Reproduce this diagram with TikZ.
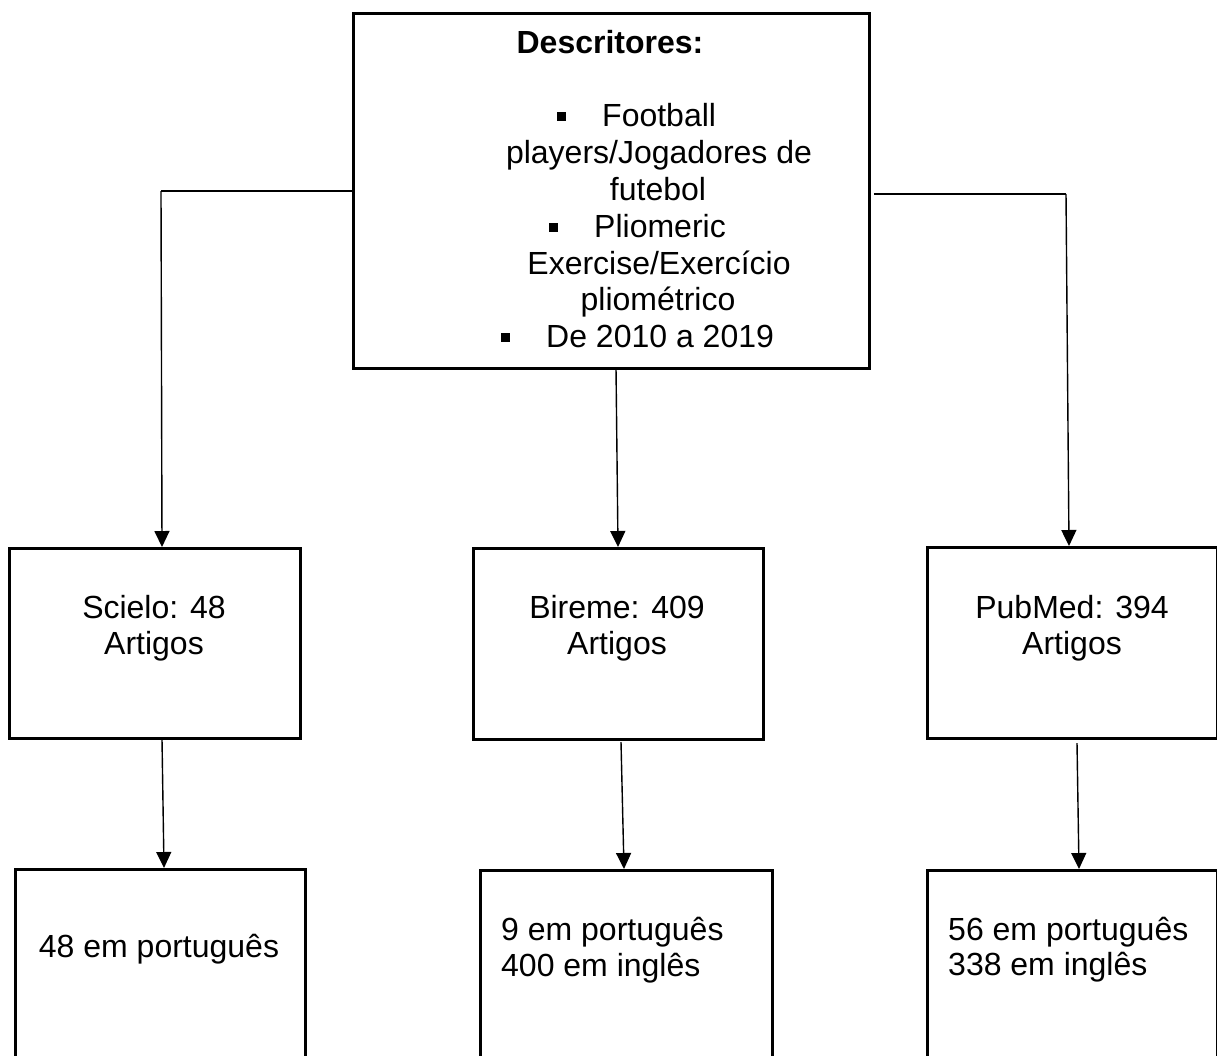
\documentclass[tikz,border=0pt]{standalone}
\usepackage{fontspec}
\setmainfont{Liberation Sans}
\usetikzlibrary{arrows.meta}
\begin{document}
\begin{tikzpicture}[x=1pt,y=-1pt,
  box/.style={draw, line width=2.8pt, inner sep=0pt, anchor=north west},
  txt/.style={font=\fontsize{32}{37}\selectfont, inner sep=0pt, anchor=base},
  ltxt/.style={txt, anchor=base west},
  bul/.style={fill=black, minimum size=9pt, inner sep=0pt},
  plain/.style={line width=1.4pt},
  conn/.style={line width=1.4pt, -{Triangle[width=15pt,length=16pt]}}]
\useasboundingbox (0,0) rectangle (1217,1055);
\clip (0,0) rectangle (1217,1055);

% boxes
\node[box, minimum width=516pt, minimum height=355pt] (top) at (352,12) {};
\node[box, minimum width=291pt, minimum height=190pt] (scielo) at (8,547) {};
\node[box, minimum width=290pt, minimum height=191pt] (bireme) at (472,547) {};
\node[box, minimum width=290pt, minimum height=191pt] (pubmed) at (926,546) {};
\node[box, minimum width=290pt, minimum height=220pt] (res1) at (14,868) {};
\node[box, minimum width=292pt, minimum height=220pt] (res2) at (479,869) {};
\node[box, minimum width=290pt, minimum height=220pt] (res3) at (926,869) {};

% top box text
\node[txt, font=\fontsize{32}{37}\selectfont\bfseries] (d0) at (610,53) {Descritores:};
\node[bul] (b1) at (561,116) {};
\node[ltxt] (d1) at (602,126) {Football};
\node[txt] (d2) at (659,163) {players/Jogadores de};
\node[txt] (d3) at (658,200) {futebol};
\node[bul] (b2) at (553,227) {};
\node[ltxt] (d4) at (594,237) {Pliomeric};
\node[txt] (d5) at (659,274) {Exercise/Exercício};
\node[txt] (d6) at (658,310) {pliométrico};
\node[bul] (b3) at (505,337) {};
\node[ltxt] (d7) at (546,347) {De 2010 a 2019};

% middle row text
\node[txt] (s1) at (154,618) {Scielo: 48};
\node[txt] (s2) at (154,654) {Artigos};
\node[txt] (m1) at (617,618) {Bireme: 409};
\node[txt] (m2) at (617,654) {Artigos};
\node[txt] (p1) at (1072,618) {PubMed: 394};
\node[txt] (p2) at (1072,654) {Artigos};

% bottom row text
\node[txt] (r1) at (159,957) {48 em português};
\node[ltxt] (r2a) at (501,940) {9 em português};
\node[ltxt] (r2b) at (501,976) {400 em inglês};
\node[ltxt] (r3a) at (948,940) {56 em português};
\node[ltxt] (r3b) at (948,975) {338 em inglês};

% connectors
\coordinate (lc) at (161,191);
\coordinate (rc) at (1066,194);
\coordinate (mc) at (616,368);
\draw[plain] (top.west |- lc) -- (lc);
\draw[conn] (lc) -- ([xshift=1pt]lc |- scielo.north);
\draw[plain] ([xshift=3pt]top.east |- rc) -- (rc);
\draw[conn] (rc) -- ([xshift=3pt]rc |- pubmed.north);
\draw[conn] (mc) -- ([xshift=2pt]mc |- bireme.north);

\coordinate (l2) at (162,739);
\coordinate (m2c) at (621,742);
\coordinate (r2c) at (1077,743);
\draw[conn] (l2) -- ([xshift=2pt]l2 |- res1.north);
\draw[conn] (m2c) -- ([xshift=3pt]m2c |- res2.north);
\draw[conn] (r2c) -- ([xshift=2pt]r2c |- res3.north);
\end{tikzpicture}
\end{document}
